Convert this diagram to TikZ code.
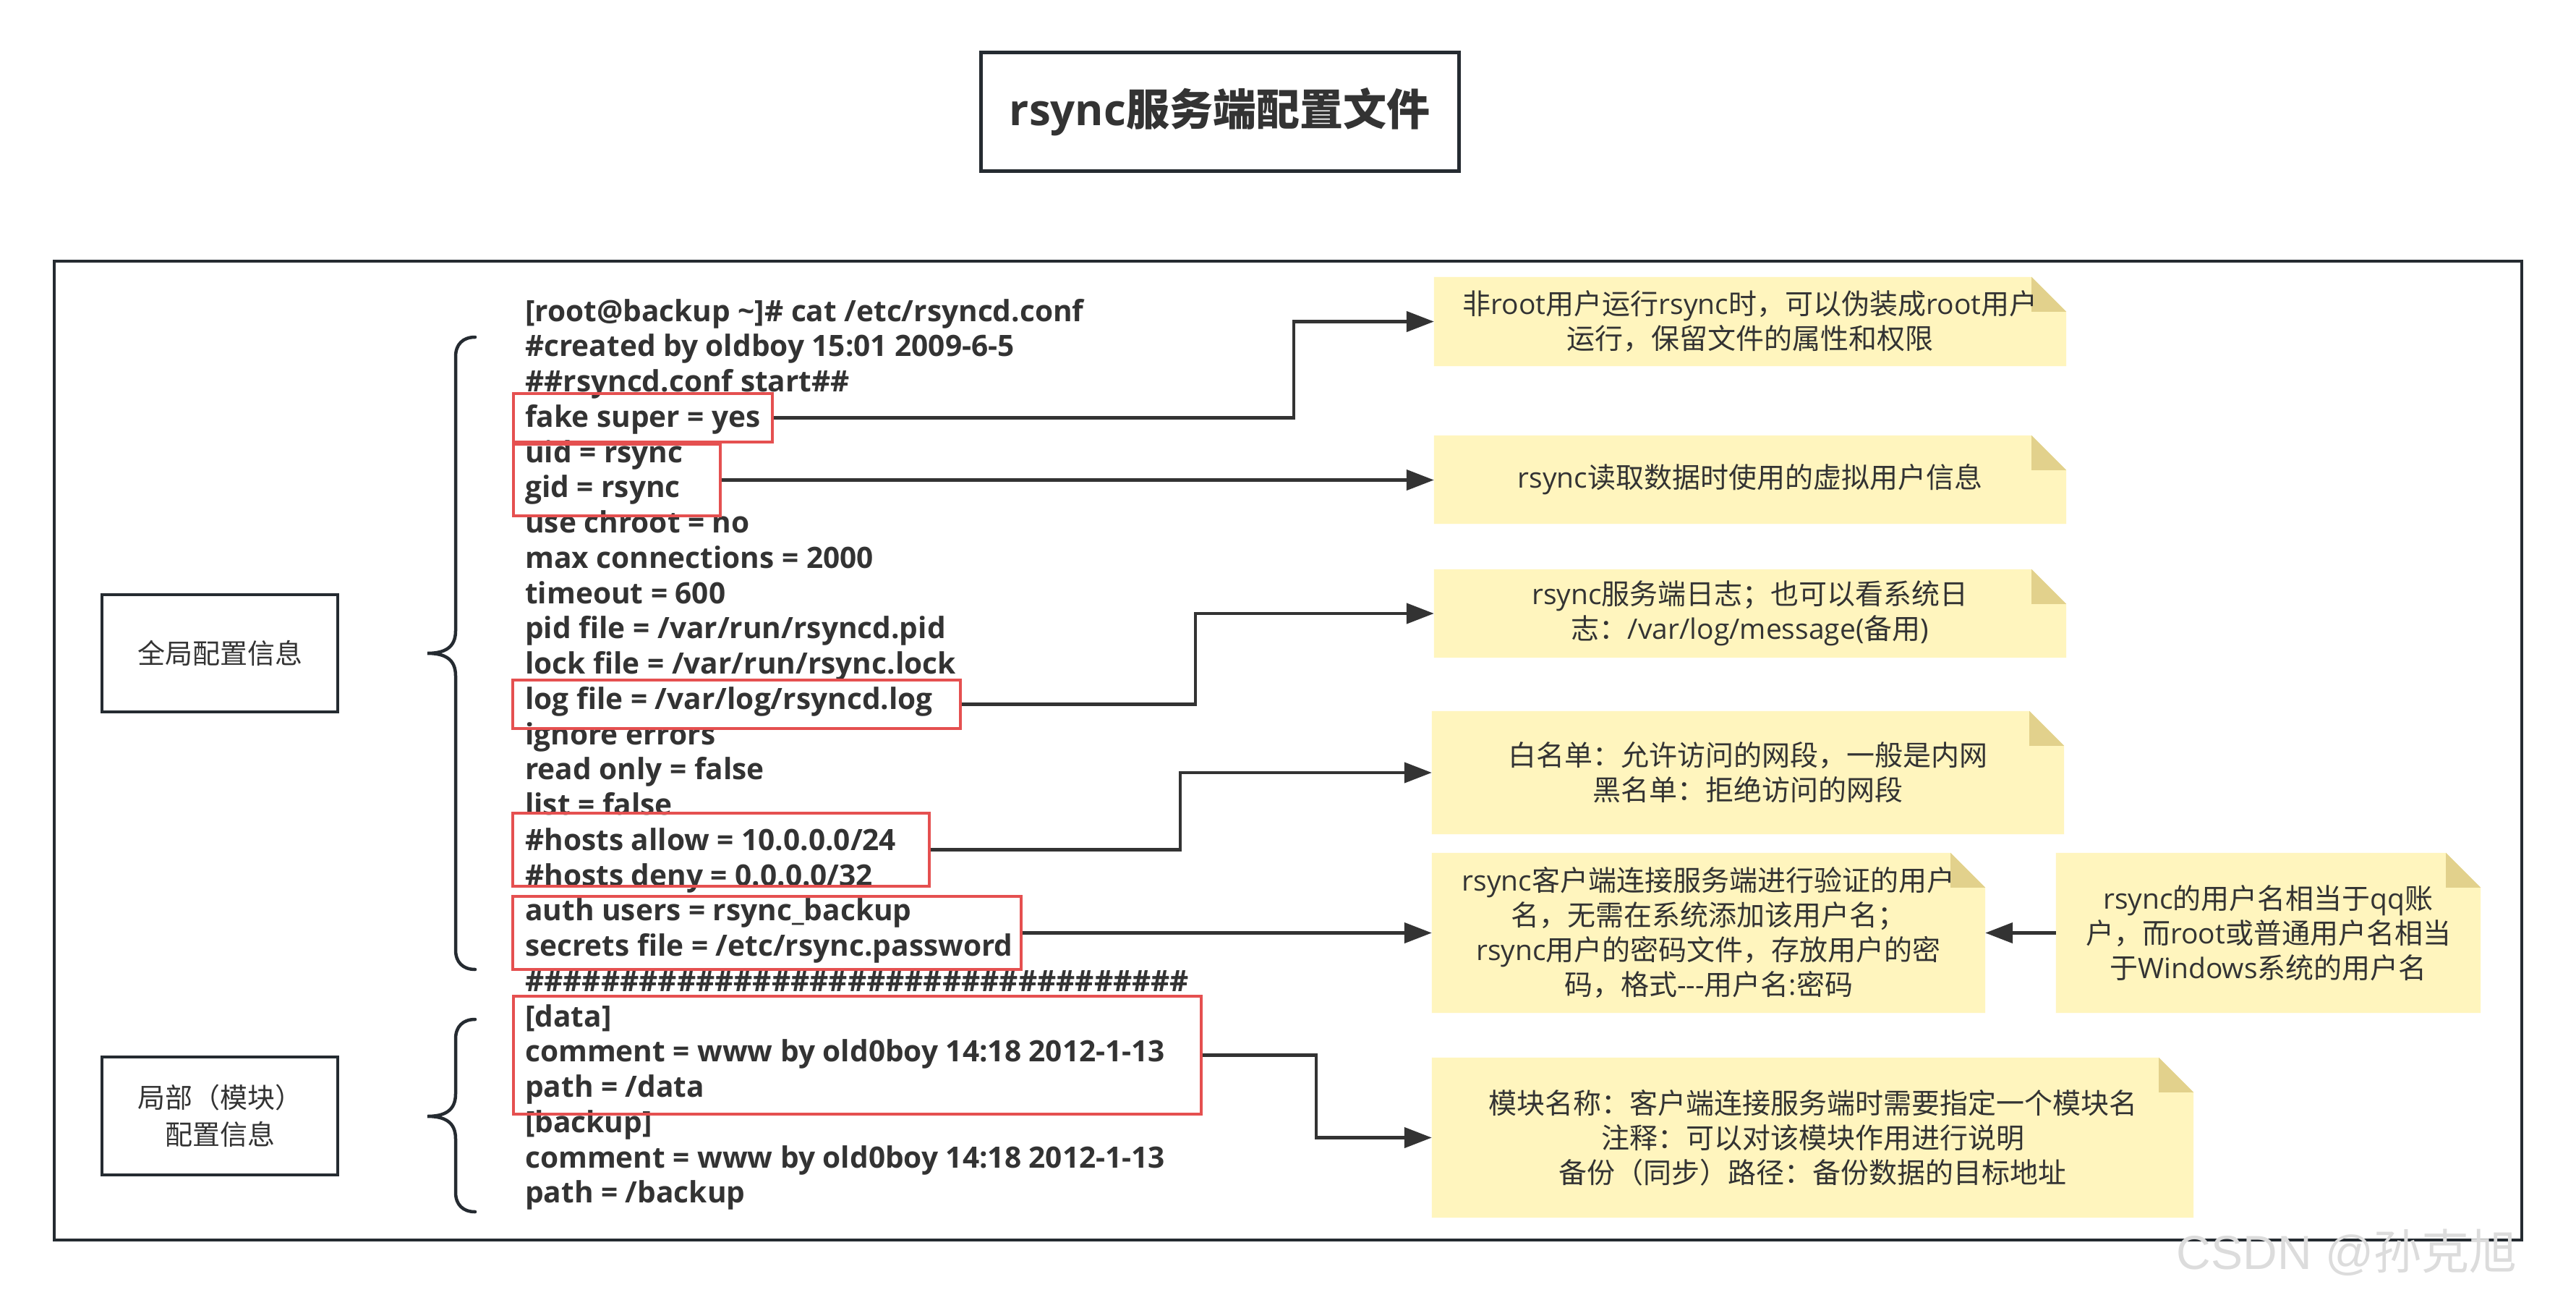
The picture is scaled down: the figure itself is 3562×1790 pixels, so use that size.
\documentclass[tikz,border=0pt]{standalone}
\usepackage{fontspec}
\setmainfont{Open Sans}
\newfontfamily\cjk{Noto Sans CJK SC}
\newfontfamily\wmfont{Liberation Sans}
\usetikzlibrary{arrows.meta,backgrounds}
\definecolor{txt}{HTML}{333333}
\definecolor{boxc}{HTML}{252B31}
\definecolor{redc}{HTML}{E55050}
\definecolor{arrc}{HTML}{333333}
\definecolor{notec}{HTML}{FFF5BE}
\definecolor{foldc}{HTML}{E2D18C}
\definecolor{wmc}{HTML}{DCDCDC}
\newcommand\zh[1]{{\cjk #1}}
\newcommand\notebg[1]{%
  \fill[notec] (#1.north west) -- ([xshift=-48pt]#1.north east) -- ([yshift=-48pt]#1.north east) -- (#1.south east) -- (#1.south west) -- cycle;
  \fill[foldc] ([xshift=-48pt]#1.north east) -- ([xshift=-48pt,yshift=-48pt]#1.north east) -- ([yshift=-48pt]#1.north east) -- cycle;}
\begin{document}
\begin{tikzpicture}[x=1pt,y=-1pt,
  codeline/.style={anchor=base west, inner sep=0pt, text=txt, font=\bfseries\fontsize{40.6}{49}\selectfont},
  redbox/.style={draw=redc, line width=4.5pt, inner sep=0pt},
  notebox/.style={inner sep=0pt, align=center, text=txt, font=\fontsize{39}{48}\selectfont},
  arr/.style={draw=arrc, line width=4.5pt, -{Triangle[length=38pt,width=28pt]}},
  labelbox/.style={draw=boxc, line width=4.5pt, inner sep=0pt, align=center, text=txt, font=\cjk\fontsize{38}{51}\selectfont},
  bracepath/.style={draw=boxc, line width=4.5pt, line cap=round}]
\useasboundingbox (0,0) rectangle (3562,1790);

% title
\node[draw=boxc, line width=5pt, minimum width=661pt, minimum height=163pt, inner sep=0pt, text=txt] (title) at (1686.5,154.5) {\fontsize{60}{72}\selectfont\bfseries rsync\zh{服务端配置文件}};

% outer frame
\draw[boxc, line width=4.5pt] (75,361) rectangle (3487,1714);

% left labels
\node[labelbox, minimum width=326pt, minimum height=162pt] (global) at (304,903) {全局配置信息};
\node[labelbox, minimum width=326pt, minimum height=163pt] (local) at (304,1542.5) {局部（模块）\\配置信息};

% braces
\draw[bracepath] (657,466) .. controls (640,466) and (630,476) .. (630,493) -- (630,872) .. controls (630,895) and (615,903) .. (591,903) .. controls (615,903) and (630,911) .. (630,934) -- (630,1313) .. controls (630,1330) and (640,1340) .. (657,1340);
\draw[bracepath] (657,1409) .. controls (640,1409) and (630,1419) .. (630,1436) -- (630,1512) .. controls (630,1535) and (615,1543) .. (591,1543) .. controls (615,1543) and (630,1551) .. (630,1574) -- (630,1648) .. controls (630,1665) and (640,1675) .. (657,1675);

% code lines
\node[codeline] (c1) at (726,444) {[root@backup \textasciitilde]\# cat /etc/rsyncd.conf};
\node[codeline] (c2) at (726,492.75) {\#created by oldboy 15:01 2009-6-5};
\node[codeline] (c3) at (726,541.5) {\#\#rsyncd.conf start\#\#};
\node[codeline] (c4) at (726,590.25) {fake super = yes};
\node[codeline] (c5) at (726,639) {uid = rsync};
\node[codeline] (c6) at (726,687.75) {gid = rsync};
\node[codeline] (c7) at (726,736.5) {use chroot = no};
\node[codeline] (c8) at (726,785.25) {max connections = 2000};
\node[codeline] (c9) at (726,834) {timeout = 600};
\node[codeline] (c10) at (726,882.75) {pid file = /var/run/rsyncd.pid};
\node[codeline] (c11) at (726,931.5) {lock file = /var/run/rsync.lock};
\node[codeline] (c12) at (726,980.25) {log file = /var/log/rsyncd.log};
\node[codeline] (c13) at (726,1029) {ignore errors};
\node[codeline] (c14) at (726,1077.75) {read only = false};
\node[codeline] (c15) at (726,1126.5) {list = false};
\node[codeline] (c16) at (726,1175.25) {\#hosts allow = 10.0.0.0/24};
\node[codeline] (c17) at (726,1224) {\#hosts deny = 0.0.0.0/32};
\node[codeline] (c18) at (726,1272.75) {auth users = rsync\_backup};
\node[codeline] (c19) at (726,1321.5) {secrets file = /etc/rsync.password};
\node[codeline] (c20) at (726,1370.25) {\#\#\#\#\#\#\#\#\#\#\#\#\#\#\#\#\#\#\#\#\#\#\#\#\#\#\#\#\#\#\#\#\#\#\#};
\node[codeline] (c21) at (726,1419) {[data]};
\node[codeline] (c22) at (726,1467.75) {comment = www by old0boy 14:18 2012-1-13};
\node[codeline] (c23) at (726,1516.5) {path = /data};
\node[codeline] (c24) at (726,1565.25) {[backup]};
\node[codeline] (c25) at (726,1614) {comment = www by old0boy 14:18 2012-1-13};
\node[codeline] (c26) at (726,1662.75) {path = /backup};

% red highlight boxes
\node[redbox, minimum width=358pt, minimum height=67pt] (rfake) at (889,577.5) {};
\node[redbox, minimum width=286pt, minimum height=99pt] (ruid) at (853,663.5) {};
\node[redbox, minimum width=619pt, minimum height=67pt] (rlog) at (1018.5,973.5) {};
\node[redbox, minimum width=576pt, minimum height=101pt] (rhosts) at (997,1174.5) {};
\node[redbox, minimum width=703pt, minimum height=101pt] (rauth) at (1060.5,1289.5) {};
\node[redbox, minimum width=951pt, minimum height=163pt] (rdata) at (1185.5,1458.5) {};

% notes
\node[notebox, minimum width=874pt, minimum height=123pt] (n1) at (2420,444.5) {\zh{非}root\zh{用户运行}rsync\zh{时，可以伪装成}root\zh{用户}\\\zh{运行，保留文件的属性和权限}};
\node[notebox, minimum width=874pt, minimum height=122pt] (n2) at (2420,663) {rsync\zh{读取数据时使用的虚拟用户信息}};
\node[notebox, minimum width=874pt, minimum height=122pt] (n3) at (2420,848) {rsync\zh{服务端日志；也可以看系统日}\\\zh{志：}/var/log/message(\zh{备用})};
\node[notebox, minimum width=874pt, minimum height=170pt] (n4) at (2417,1068) {\zh{白名单：允许访问的网段，一般是内网}\\\zh{黑名单：拒绝访问的网段}};
\node[notebox, minimum width=765pt, minimum height=221pt] (n5) at (2362.5,1289.5) {rsync\zh{客户端连接服务端进行验证的用户}\\\zh{名，无需在系统添加该用户名；}\\rsync\zh{用户的密码文件，存放用户的密}\\\zh{码，格式}-{}-{}-\zh{用户名}:\zh{密码}};
\node[notebox, minimum width=587pt, minimum height=221pt] (n6) at (3136.5,1289.5) {rsync\zh{的用户名相当于}qq\zh{账}\\\zh{户，而}root\zh{或普通用户名相当}\\\zh{于}Windows\zh{系统的用户名}};
\node[notebox, minimum width=1053pt, minimum height=221pt] (n7) at (2506.5,1572.5) {\zh{模块名称：客户端连接服务端时需要指定一个模块名}\\\zh{注释：可以对该模块作用进行说明}\\\zh{备份（同步）路径：备份数据的目标地址}};

% routing helpers
\coordinate (k1) at (1789,0);
\coordinate (k3) at (1653,0);
\coordinate (k4) at (1632,0);
\coordinate (k6) at (1820,0);

% connectors
\draw[arr] (rfake.east) -- (rfake.east -| k1) |- (n1.west);
\draw[arr] (ruid.east) -- (ruid.east -| n2.west);
\draw[arr] (rlog.east) -- (rlog.east -| k3) |- (n3.west);
\draw[arr] (rhosts.east) -- (rhosts.east -| k4) |- (n4.west);
\draw[arr] (rauth.east) -- (rauth.east -| n5.west);
\draw[arr] (rdata.east) -- (rdata.east -| k6) |- (n7.west);
\draw[arr] (n6.west) -- (n5.east);

% watermark
\node[text=wmc, inner sep=0pt, font=\fontsize{66}{70}\selectfont] (wm) at (3245,1731) {{\wmfont CSDN @}\zh{孙克旭}};

\begin{scope}[on background layer]
\fill[white] (0,0) rectangle (3562,1790);
\notebg{n1}
\notebg{n2}
\notebg{n3}
\notebg{n4}
\notebg{n5}
\notebg{n6}
\notebg{n7}
\end{scope}
\end{tikzpicture}
\end{document}
